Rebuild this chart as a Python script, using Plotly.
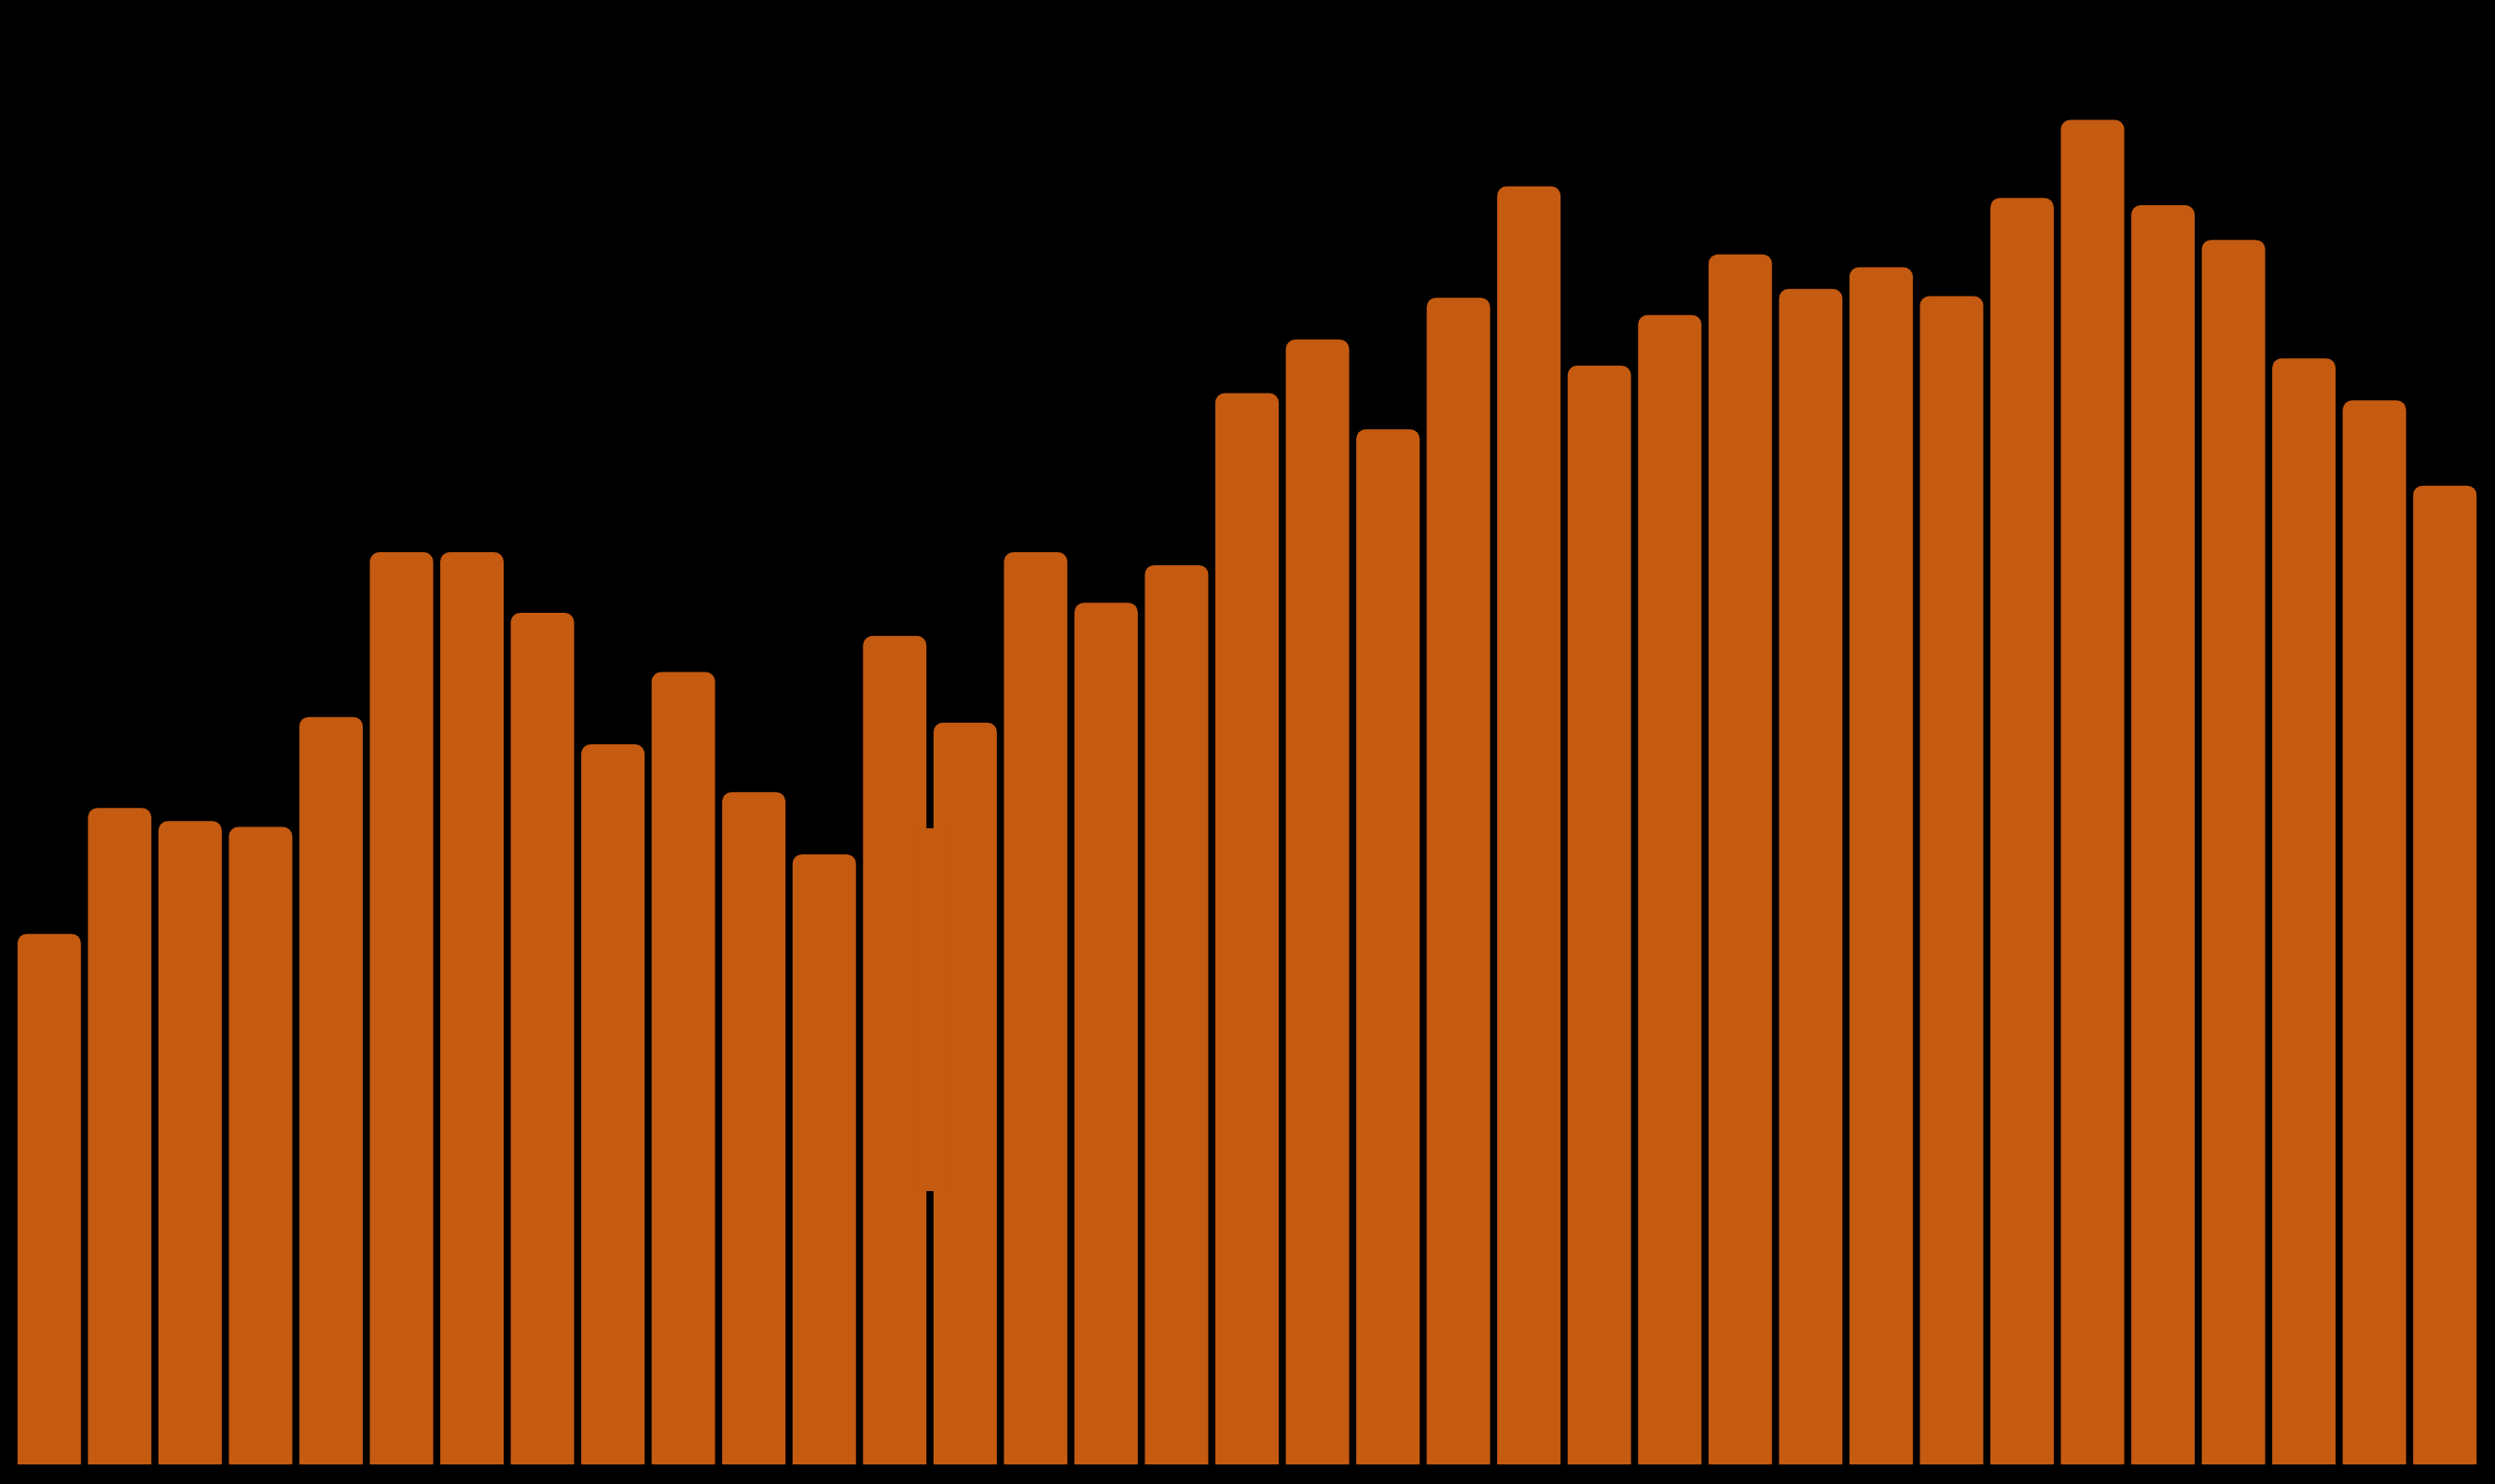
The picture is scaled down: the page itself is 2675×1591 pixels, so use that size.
import plotly.graph_objects as go

categories = [str(i) for i in range(1, 36)]
values = [36.7, 45.4, 44.5, 44.1, 51.7, 63.1, 63.1, 58.9, 49.8, 54.8,
          46.5, 42.2, 57.3, 51.3, 63.1, 59.6, 62.2, 74.1, 77.8, 71.6,
          80.7, 88.4, 76.0, 79.5, 83.7, 81.3, 82.8, 80.8, 87.6, 93.0,
          87.1, 84.7, 76.5, 73.6, 67.7]

BAR_COLOR = "#C55A11"

fig = go.Figure(go.Bar(x=categories, y=values, marker=dict(color=BAR_COLOR, line=dict(width=0))))

# orange filler block between bars 13 and 14
fig.add_shape(type="rect", xref="x", yref="y", x0=12.3, x1=12.7, y0=18.9, y1=44.0,
              fillcolor=BAR_COLOR, line=dict(width=0), layer="above")

fig.update_layout(
    width=2675, height=1591,
    paper_bgcolor="black", plot_bgcolor="black",
    margin=dict(l=15, r=16, t=20, b=21),
    bargap=0.1, barcornerradius=10,
    showlegend=False,
    xaxis=dict(visible=False, range=[-0.5, 34.5]),
    yaxis=dict(visible=False, range=[0, 100]),
)

fig.write_html(
    "out.html",
    config={"displayModeBar": False},
    post_script="document.body.style.margin='0';document.body.style.background='black';document.body.style.overflow='hidden';",
)
